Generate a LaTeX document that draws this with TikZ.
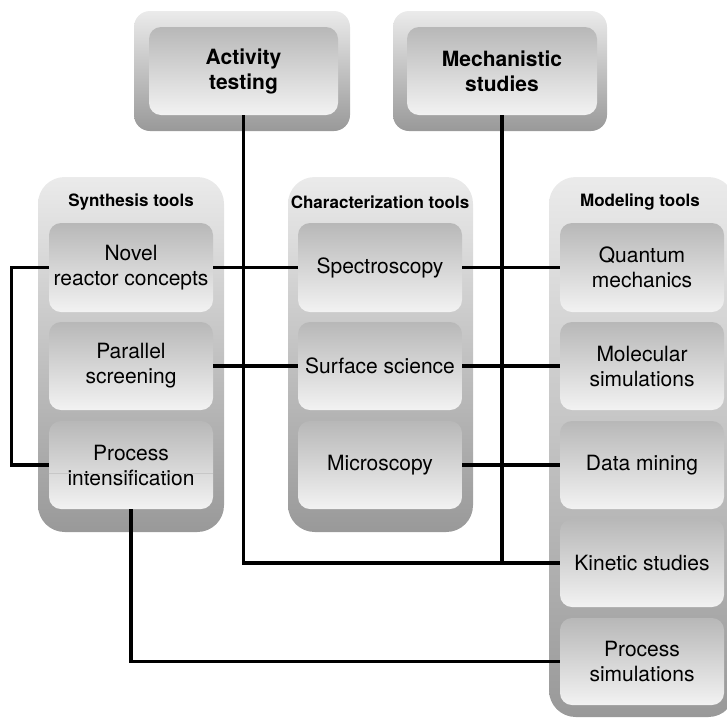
\documentclass[tikz,border=0pt]{standalone}
\usepackage{fontspec}
\setmainfont{TeX Gyre Heros}

\newcommand{\pxbox}[7]{
	\pgfmathsetmacro{\PXw}{(#4-#2)*0.75}
	\pgfmathsetmacro{\PXh}{(#5-#3)*0.75}
	\pgfmathsetmacro{\PXx}{(#2+#4)/2}
	\pgfmathsetmacro{\PXy}{(#3+#5)/2}
	\node[#6, minimum width=\PXw pt, minimum height=\PXh pt] (#1) at (\PXx, \PXy) {#7};
}

\begin{document}
\begin{tikzpicture}[x=0.75pt, y=-0.75pt,
	panel/.style={inner sep=0pt, rounded corners=20pt, top color=black!8, bottom color=black!40},
	toppanel/.style={panel, rounded corners=12pt},
	item/.style={inner sep=0pt, rounded corners=9pt, top color=black!28, bottom color=black!5, align=center, font=\fontsize{15.75}{18.75}\selectfont},
	head/.style={item, font=\bfseries\fontsize{15.75}{18.75}\selectfont},
	lab/.style={font=\bfseries\fontsize{12.75}{15}\selectfont},
	link/.style={line width=2.4pt}]
\useasboundingbox (0,0) rectangle (727,718);
\clip (0,0) rectangle (727,718);

\pxbox{actpan}{134}{11}{350}{131}{toppanel}{}
\pxbox{act}{149}{27}{338}{115}{head}{Activity\\testing}
\pxbox{mechpan}{393}{11}{607}{131}{toppanel}{}
\pxbox{mech}{407}{27}{597}{115}{head}{Mechanistic\\studies}

\pxbox{synpan}{38}{177}{224}{532}{panel}{}
\pxbox{chapan}{288}{177}{473}{532}{panel}{}
\pxbox{modpan}{549}{177}{735}{717}{panel}{}

\node[lab] (synlab) at (131,202) {Synthesis tools};
\node[lab] (chalab) at (380,202) {Characterization tools};
\node[lab] (modlab) at (640,202) {Modeling tools};

\pxbox{nrc}{49}{223}{213}{312}{item}{Novel\\reactor concepts}
\pxbox{par}{49}{322}{213}{410}{item}{Parallel\\screening}
\pxbox{pin}{49}{421}{213}{509}{item}{Process\\intensification}

\pxbox{spec}{298}{223}{462}{312}{item}{Spectroscopy}
\pxbox{surf}{298}{322}{462}{410}{item}{Surface science}
\pxbox{micro}{298}{421}{462}{509}{item}{Microscopy}

\pxbox{qm}{560}{223}{724}{312}{item}{Quantum\\mechanics}
\pxbox{molsim}{560}{322}{724}{410}{item}{Molecular\\simulations}
\pxbox{dm}{560}{421}{724}{509}{item}{Data mining}
\pxbox{kin}{560}{519}{724}{607}{item}{Kinetic studies}
\pxbox{psim}{560}{618}{724}{705}{item}{Process\\simulations}

\draw[black!22, line width=0.6pt] (pin.west |- 0,473) -- (pin.east |- 0,473);

\draw[link] (nrc.west) -- ++(-37,0) |- (pin.west);
\draw[link] (nrc.east) -- (spec.west);
\draw[link] (par.east) -- (surf.west);
\draw[link] (spec.east) -- (qm.west);
\draw[link] (surf.east) -- (molsim.west);
\draw[link] (micro.east) -- (dm.west);
\draw[link] (act.south) |- (kin.west);
\draw[link] (mech.south) -- (mech.south |- kin.west);
\draw[link] (pin.south) |- (psim.west);
\end{tikzpicture}
\end{document}
